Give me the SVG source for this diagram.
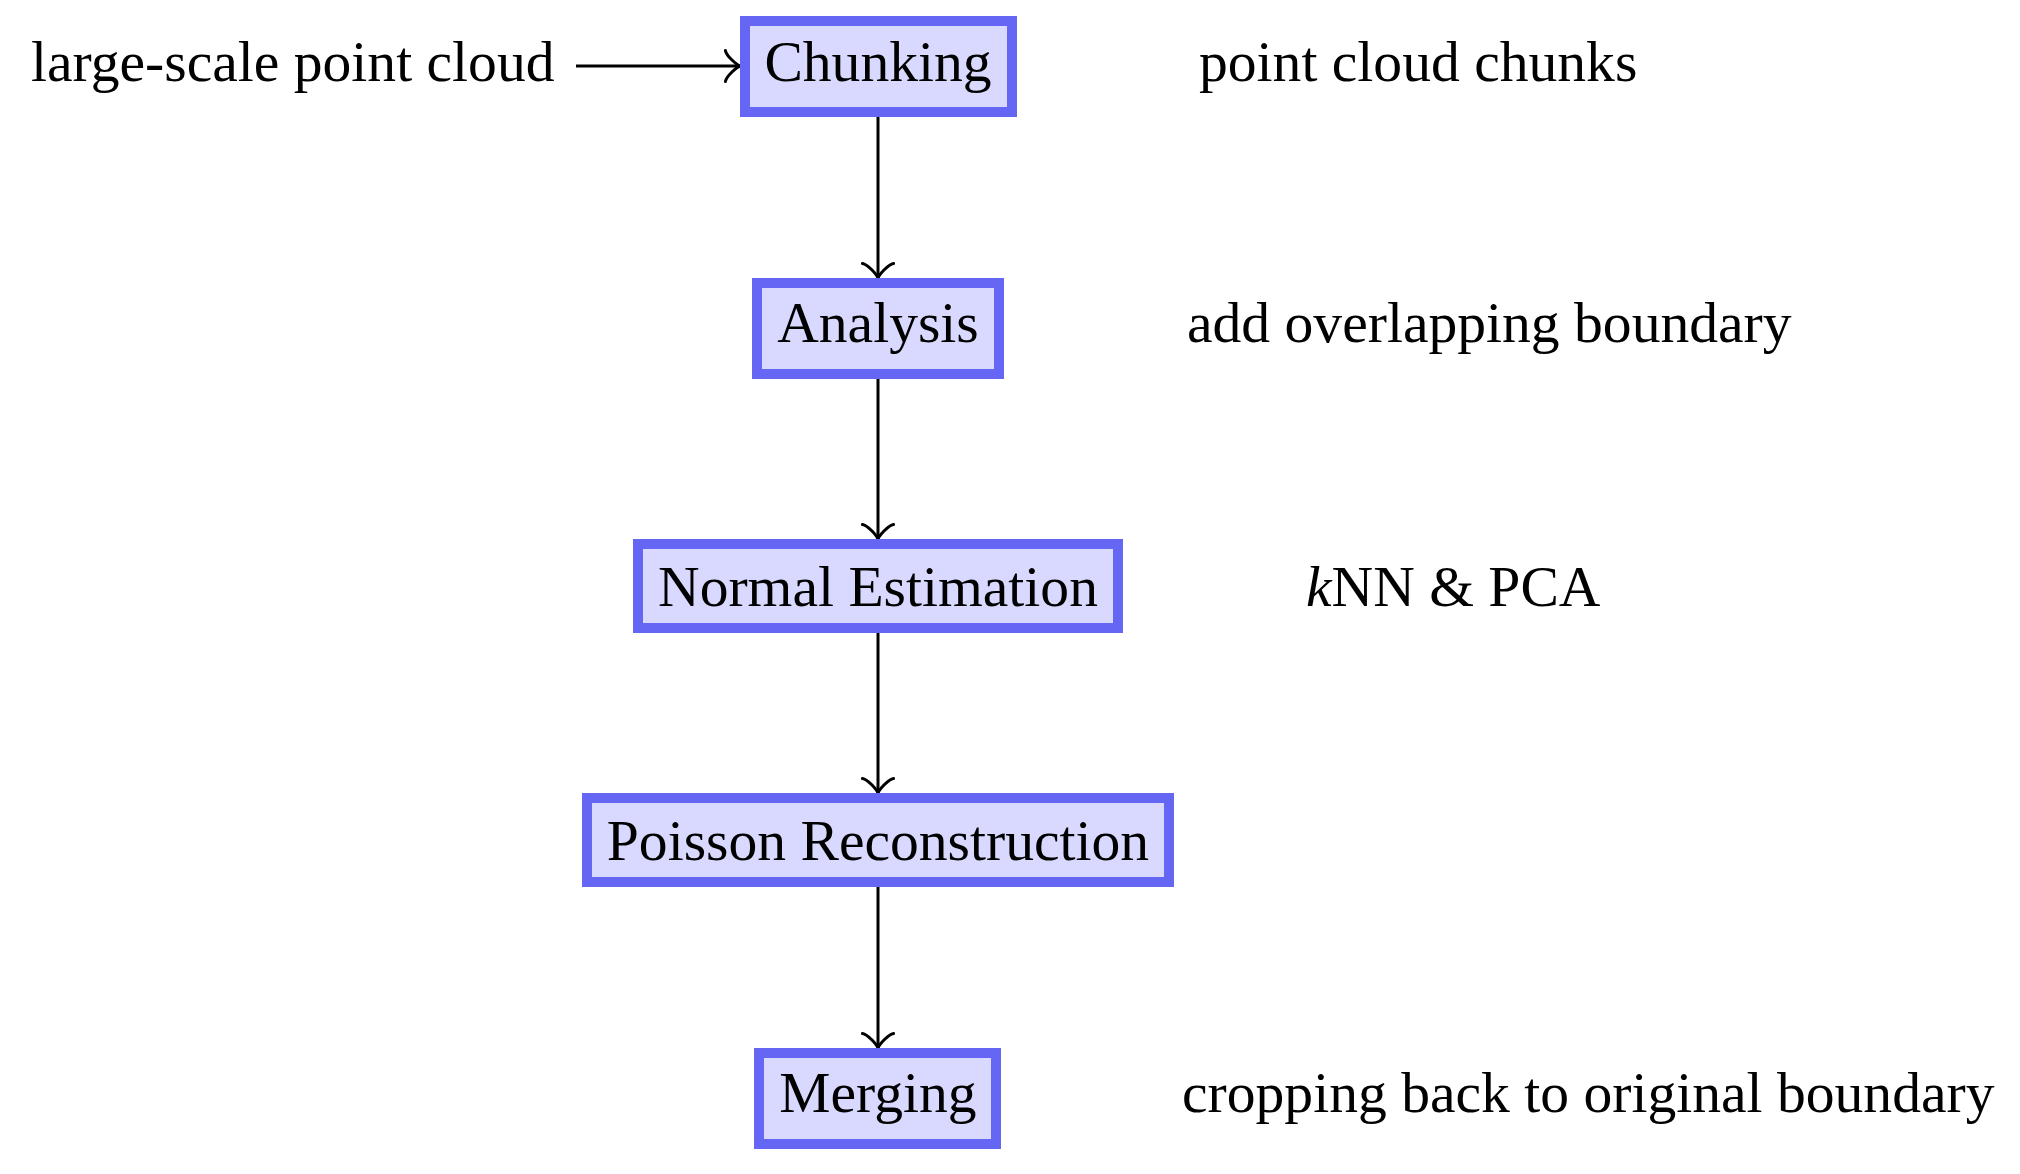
<svg xmlns="http://www.w3.org/2000/svg" width="2020" height="1174" viewBox="0 0 2020 1174">
<style>
.box{fill:#d9d9ff;stroke:#6666f5;stroke-width:10}
.t{font-family:"Liberation Serif","Times New Roman",serif;font-size:57.6px;fill:#000}
.m{text-anchor:middle}
.c{stroke:#000;stroke-width:3;fill:none}
</style>
<defs>
<marker id="to" markerUnits="userSpaceOnUse" orient="auto" markerWidth="40" markerHeight="40" refX="0" refY="0" viewBox="-20 -20 40 40" overflow="visible">
<path d="M-14.6,-15.6 C-13.6,-9.75 -2.9,-1 0,0 C-2.9,1 -13.6,9.75 -14.6,15.6" fill="none" stroke="#000" stroke-width="3" stroke-linecap="round"/>
</marker>
</defs>
<rect width="2020" height="1174" fill="#fff"/>
<g id="connectors">
<line class="c" x1="576" y1="66" x2="740" y2="66" marker-end="url(#to)"/>
<line class="c" x1="878" y1="117" x2="878" y2="278" marker-end="url(#to)"/>
<line class="c" x1="878" y1="379" x2="878" y2="539" marker-end="url(#to)"/>
<line class="c" x1="878" y1="633" x2="878" y2="793" marker-end="url(#to)"/>
<line class="c" x1="878" y1="887" x2="878" y2="1048" marker-end="url(#to)"/>
</g>
<g id="chunking">
<rect class="box" x="745" y="21" width="267" height="91"/>
<text class="t m" x="878" y="81">Chunking</text>
</g>
<g id="analysis">
<rect class="box" x="757" y="283" width="242" height="91"/>
<text class="t m" x="878" y="342">Analysis</text>
</g>
<g id="normal-estimation">
<rect class="box" x="638" y="544" width="480" height="84"/>
<text class="t m" x="878" y="606">Normal Estimation</text>
</g>
<g id="poisson">
<rect class="box" x="587" y="798" width="582" height="84"/>
<text class="t m" x="878" y="860">Poisson Reconstruction</text>
</g>
<g id="merging">
<rect class="box" x="759" y="1053" width="237" height="91"/>
<text class="t m" x="878" y="1112">Merging</text>
</g>
<g id="labels">
<text class="t" x="31" y="81">large-scale point cloud</text>
<text class="t" x="1199" y="81">point cloud chunks</text>
<text class="t" x="1187" y="342">add overlapping boundary</text>
<text class="t" x="1306" y="606"><tspan font-style="italic">k</tspan>NN &amp; PCA</text>
<text class="t" x="1182" y="1112">cropping back to original boundary</text>
</g>
</svg>
